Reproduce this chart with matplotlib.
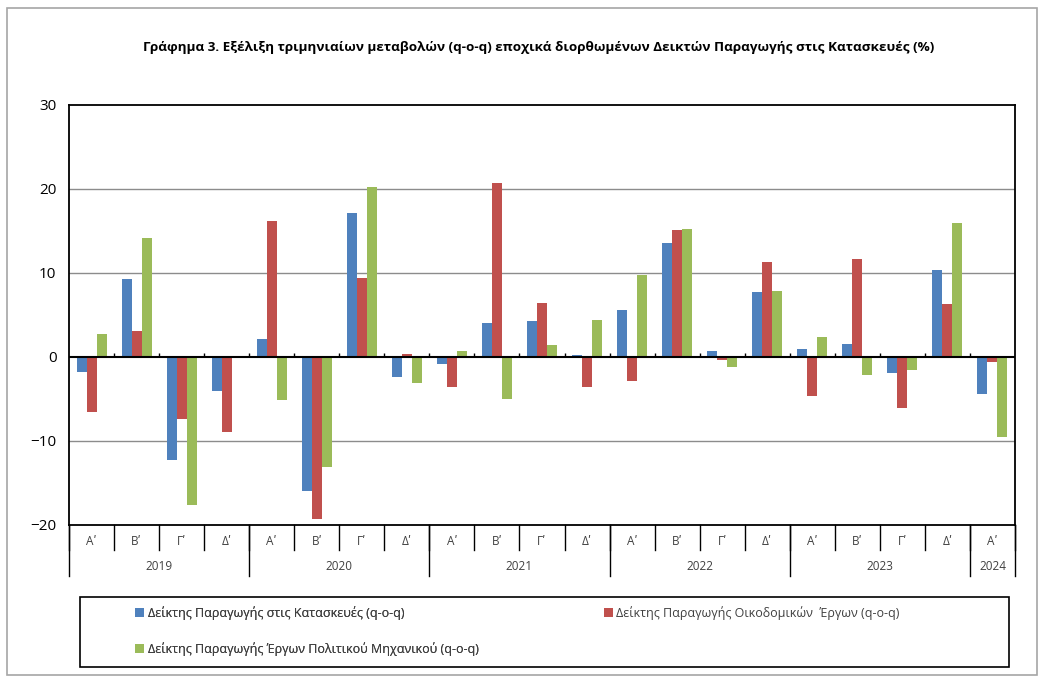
import matplotlib
matplotlib.use('Agg')
import matplotlib.pyplot as plt
import matplotlib.transforms as mtransforms
from matplotlib.patches import Rectangle
import numpy as np

plt.rcParams['font.family'] = ['Open Sans', 'DejaVu Sans']

# quarterly q-o-q changes, 2019 Q1 .. 2024 Q1
quarters = ['Α\u0374', 'Β\u0374', 'Γ\u0374', 'Δ\u0374'] * 5 + ['Α\u0374']
years = ['2019', '2020', '2021', '2022', '2023', '2024']
year_sizes = [4, 4, 4, 4, 4, 1]

construction = [-1.75, 9.3, -12.3, -4.0, 2.2, -15.95, 17.2, -2.35,
                -0.87, 4.05, 4.25, 0.2, 5.6, 13.57, 0.7, 7.74,
                0.95, 1.55, -1.87, 10.32, -4.44]
buildings = [-6.6, 3.06, -7.38, -8.9, 16.15, -19.25, 9.44, 0.36,
             -3.6, 20.75, 6.43, -3.53, -2.82, 15.16, -0.32, 11.31,
             -4.64, 11.63, -6.03, 6.27, -0.63]
civil_eng = [2.74, 14.17, -17.6, -0.1, -5.08, -13.1, 20.28, -3.1,
             0.71, -5.04, 1.39, 4.4, 9.76, 15.2, -1.23, 7.86,
             2.38, -2.18, -1.59, 15.9, -9.48]

labels = ['Δείκτης Παραγωγής στις Κατασκευές (q-o-q)',
          'Δείκτης Παραγωγής Οικοδομικών  Έργων (q-o-q)',
          'Δείκτης Παραγωγής Έργων Πολιτικού Μηχανικού (q-o-q)']
colors = ['#4F81BD', '#C0504D', '#9BBB59']

W, H = 1048, 685
fig = plt.figure(figsize=(W / 100, H / 100), dpi=100)
fig.patches.append(Rectangle((7 / W, 1 - 675 / H), 1030 / W, 667 / H,
                             transform=fig.transFigure, fill=False,
                             edgecolor='#a6a6a6', lw=1.2))

ax = fig.add_axes([69 / W, 1 - 525 / H, 946 / W, 420 / H])
x = np.arange(len(quarters))
bw = 0.222
bars = []
for k, vals in enumerate([construction, buildings, civil_eng]):
    b = ax.bar(x + (k - 1) * bw, vals, width=bw, color=colors[k],
               label=labels[k], zorder=3)
    bars.append(b)

ax.set_xlim(-0.5, len(quarters) - 0.5)
ax.set_ylim(-20, 30)
ax.set_yticks([-20, -10, 0, 10, 20, 30])
ax.tick_params(axis='y', length=0, pad=9, labelsize=11, labelcolor='#000000')
ax.set_xticks([])
for v in [-10, 10, 20]:
    ax.axhline(v, color='#8c8c8c', lw=1, zorder=1)
ax.axhline(0, color='black', lw=1.5, zorder=4)
ax.vlines(x[1:] - 0.5, 0, 0.5, color='black', lw=1, zorder=4)
for s in ax.spines.values():
    s.set_linewidth(1.3)

# two-level category axis
trans = mtransforms.blended_transform_factory(ax.transData, ax.transAxes)
for i, q in enumerate(quarters):
    ax.text(i, -0.04, q, transform=trans, ha='center', va='center',
            fontsize=8.5, color='#404040')
bounds = np.cumsum([0] + year_sizes)
for i in range(len(quarters) + 1):
    ax.plot([i - 0.5, i - 0.5], [0, -0.06], transform=trans, color='black',
            lw=1, clip_on=False)
for b in bounds:
    ax.plot([b - 0.5, b - 0.5], [0, -0.121], transform=trans, color='black',
            lw=1, clip_on=False)
for j, yr in enumerate(years):
    c = (bounds[j] + bounds[j + 1] - 1) / 2
    ax.text(c, -0.1, yr, transform=trans, ha='center', va='center',
            fontsize=8.5, color='#404040')

fig.text(539 / W, 1 - 47 / H,
         'Γράφημα 3. Εξέλιξη τριμηνιαίων μεταβολών (q-o-q) εποχικά διορθωμένων '
         'Δεικτών Παραγωγής στις Κατασκευές (%)',
         ha='center', va='center', fontsize=9.7, fontweight='bold')

# legend box
fig.patches.append(Rectangle((80 / W, 1 - 667 / H), 929 / W, 70 / H,
                             transform=fig.transFigure, fill=False,
                             edgecolor='black', lw=1.2))
lkw = dict(frameon=False, fontsize=9, handlelength=0.7, handleheight=0.7,
           handletextpad=0.3, labelcolor='#404040', borderaxespad=0,
           borderpad=0, labelspacing=1.75)
leg1 = fig.legend([bars[0], bars[2]], [labels[0], labels[2]],
                  loc='upper left', bbox_to_anchor=(135 / W, 1 - 606 / H), **lkw)
fig.add_artist(leg1)
fig.legend([bars[1]], [labels[1]], loc='upper left',
           bbox_to_anchor=(604 / W, 1 - 606 / H), **lkw)

fig.savefig('out.png', dpi=100)
